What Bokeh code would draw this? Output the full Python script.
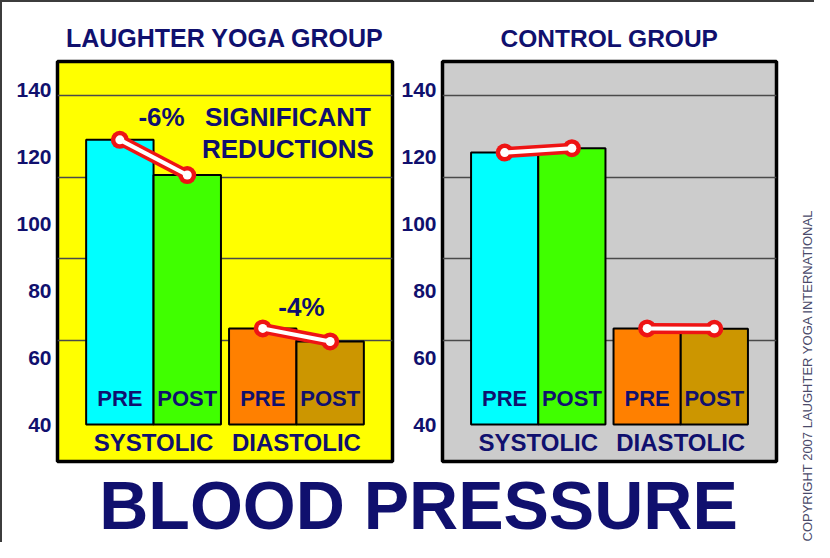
import math
from bokeh.plotting import figure
from bokeh.models import FactorRange, Range1d, FixedTicker, ColumnDataSource
from bokeh.layouts import row, column
from bokeh.embed import file_html
from bokeh.resources import INLINE
from bokeh.core.properties import value

# ---------------- data ----------------
groups = ["SYSTOLIC", "DIASTOLIC"]
phases = ["PRE", "POST"]
yoga_values = [125.0, 114.5, 68.7, 64.8]
control_values = [121.2, 122.5, 68.7, 68.6]
bar_colors = ["#00ffff", "#40ff00", "#ff8000", "#cc9600"]
y_ticks = [40, 60, 80, 100, 120, 140]
grid_levels = [65.1, 89.6, 113.7, 138.2]
yoga_changes = ["-6%", "-4%"]
panel_titles = ["LAUGHTER YOGA GROUP", "CONTROL GROUP"]
main_title = "BLOOD PRESSURE"
copyright_text = "COPYRIGHT 2007 LAUGHTER YOGA INTERNATIONAL"

NAVY = "#10106e"
FONT = value("Liberation Sans")
RED = "#ee1414"

factors = [(g, ph) for g in groups for ph in phases]


def make_panel(values, title, bg, width, mbl, mbr, title_size, changes=None):
    p = figure(
        x_range=FactorRange(*factors, factor_padding=0.0, group_padding=0.12,
                            range_padding=0.425, range_padding_units="absolute"),
        y_range=Range1d(28.96, 148.4),
        width=width, height=462,
        output_backend="svg", toolbar_location=None,
        x_axis_location=None,
        min_border_left=mbl, min_border_right=mbr,
        min_border_top=59, min_border_bottom=3,
        background_fill_color=bg, border_fill_color="white",
        outline_line_color="black", outline_line_width=3.5,
    )
    p.title.text = title
    p.title.align = "center"
    p.title.text_font = "Liberation Sans"
    p.title.text_font_size = title_size
    p.title.text_font_style = "bold"
    p.title.text_color = NAVY
    p.title.standoff = 20

    ax = p.yaxis[0]
    ax.ticker = FixedTicker(ticks=y_ticks)
    ax.axis_line_color = None
    ax.major_tick_line_color = None
    ax.minor_tick_line_color = None
    ax.major_tick_out = 0
    ax.major_tick_in = 0
    ax.minor_tick_out = 0
    ax.major_label_standoff = 6
    ax.major_label_text_font = "Liberation Sans"
    ax.major_label_text_font_size = "21px"
    ax.major_label_text_font_style = "bold"
    ax.major_label_text_color = NAVY

    p.xgrid.visible = False
    p.ygrid.ticker = FixedTicker(ticks=grid_levels)
    p.ygrid.grid_line_color = "#4a4a4a"
    p.ygrid.grid_line_width = 1.3

    src = ColumnDataSource(dict(x=factors, top=values, color=bar_colors,
                                phase=[f[1] for f in factors]))
    p.vbar(x="x", top="top", bottom=y_ticks[0], width=1.0, fill_color="color",
           line_color="black", line_width=2, source=src)
    p.text(x="x", y=y_ticks[0], text="phase", source=src, y_offset=-26,
           text_align="center", text_baseline="middle",
           text_font=FONT, text_font_size="22px", text_font_style="bold",
           text_color=NAVY)
    p.text(x=groups, y=[y_ticks[0]] * 2, text=groups, y_offset=18,
           text_align="center", text_baseline="middle",
           text_font=FONT, text_font_size="24px", text_font_style="bold",
           text_color=NAVY)

    # connectors
    for gi, g in enumerate(groups):
        xs = [(g, "PRE"), (g, "POST")]
        ys = values[2 * gi:2 * gi + 2]
        p.line(xs, ys, line_color=RED, line_width=11)
        p.scatter(xs, ys, size=18, fill_color=RED, line_color=None)
        p.line(xs, ys, line_color="white", line_width=4)
        p.scatter(xs, ys, size=9, fill_color="white", line_color=None)

    if changes is not None:
        p.text(x=["SYSTOLIC"], y=[values[0]], text=[changes[0]], x_offset=8,
               y_offset=-23, text_align="center", text_baseline="middle",
               text_font=FONT, text_font_size="26px", text_font_style="bold",
               text_color=NAVY)
        p.text(x=["DIASTOLIC"], y=[values[2]], text=[changes[1]], x_offset=5,
               y_offset=-21, text_align="center", text_baseline="middle",
               text_font=FONT, text_font_size="26px", text_font_style="bold",
               text_color=NAVY)
        p.text(x=["DIASTOLIC", "DIASTOLIC"], y=[y_ticks[-1]] * 2,
               text=["SIGNIFICANT", "REDUCTIONS"], x_offset=-8.5,
               y_offset=[27.5, 59], text_align="center", text_baseline="middle",
               text_font=FONT, text_font_size="26px", text_font_style="bold",
               text_color=NAVY)
    return p


p_left = make_panel(yoga_values, panel_titles[0], "#ffff00", 393, 55, 3, "25px",
                    changes=yoga_changes)
p_right = make_panel(control_values, panel_titles[1], "#cccccc", 403, 47, 22, "24.5px")

# bottom title figure
p_bottom = figure(width=796, height=78, x_range=Range1d(0, 796), y_range=Range1d(0, 78),
                  output_backend="svg", toolbar_location=None,
                  x_axis_location=None, y_axis_location=None,
                  min_border=0, outline_line_color=None,
                  background_fill_color="white", border_fill_color="white")
p_bottom.grid.visible = False
p_bottom.text(x=[416], y=[38], text=[main_title], text_align="center",
              text_baseline="middle", text_font=FONT, text_font_size="68px",
              text_font_style="bold", text_color=NAVY)

# copyright strip
p_copy = figure(width=16, height=540, x_range=Range1d(0, 16), y_range=Range1d(0, 540),
                output_backend="svg", toolbar_location=None,
                x_axis_location=None, y_axis_location=None,
                min_border=0, outline_line_color=None,
                background_fill_color="white", border_fill_color="white")
p_copy.grid.visible = False
p_copy.text(x=[9], y=[1], text=[copyright_text], angle=math.pi / 2,
            text_align="left", text_baseline="middle", text_font=FONT,
            text_font_size="13px", text_color="#4a4a6a")

layout = row(column(row(p_left, p_right), p_bottom), p_copy,
             styles={"border-top": "2px solid #3c3c3c",
                     "border-left": "2px solid #3c3c3c"})

open("out.html", "w").write(file_html(layout, INLINE))
